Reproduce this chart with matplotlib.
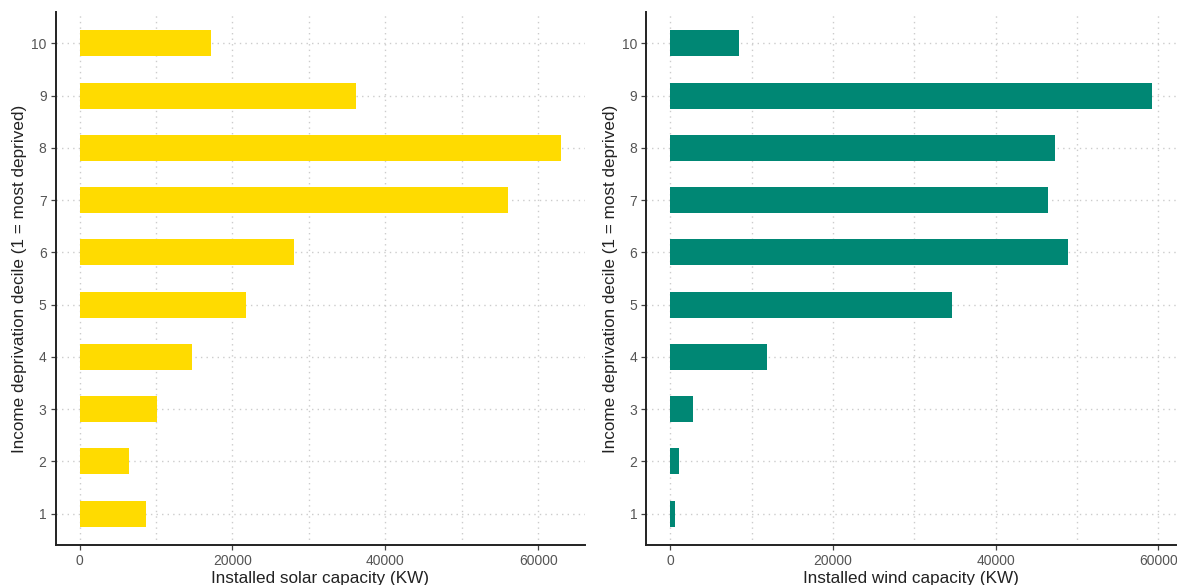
import numpy as np
import matplotlib
matplotlib.use("Agg")
import matplotlib.pyplot as plt
from matplotlib.ticker import MultipleLocator

# income deprivation deciles (1 = most deprived)
deciles = [1, 2, 3, 4, 5, 6, 7, 8, 9, 10]
solar_kw = [8700, 6400, 10100, 14700, 21800, 28000, 56100, 63000, 36100, 17200]
wind_kw = [600, 1060, 2800, 11900, 34700, 48900, 46400, 47300, 59200, 8430]
xticks = [0, 20000, 40000, 60000]

plt.rcParams['font.family'] = ['Liberation Sans', 'DejaVu Sans']

fig = plt.figure(figsize=(11.77, 5.85), dpi=100)
ax1 = fig.add_axes([0.0472, 0.0684, 0.450, 0.911])
ax2 = fig.add_axes([0.549, 0.0684, 0.450, 0.911])

panels = [(ax1, solar_kw, "#FFDB00", "Installed solar capacity (KW)"),
          (ax2, wind_kw, "#008774", "Installed wind capacity (KW)")]

for ax, vals, col, xlab in panels:
    ax.barh(deciles, vals, height=0.5, color=col, zorder=2)
    vmax = max(vals)
    ax.set_xlim(-0.05 * vmax, 1.05 * vmax)
    ax.set_ylim(0.4, 10.6)
    ax.set_yticks(deciles)
    ax.set_xticks(xticks)
    ax.xaxis.set_minor_locator(MultipleLocator(10000))
    ax.grid(True, which='both', axis='x', linestyle=(0, (1, 3)), color='#cccccc', linewidth=1.0, zorder=0)
    ax.grid(True, which='major', axis='y', linestyle=(0, (1, 3)), color='#cccccc', linewidth=1.0, zorder=0)
    ax.set_axisbelow(True)
    for s in ['top', 'right']:
        ax.spines[s].set_visible(False)
    for s in ['left', 'bottom']:
        ax.spines[s].set_linewidth(1.4)
        ax.spines[s].set_color('#222222')
    ax.tick_params(which='major', length=3.5, width=0.9, color='#444444', labelcolor='#555555', labelsize=10, pad=3)
    ax.tick_params(which='minor', length=0)
    ax.set_xlabel(xlab, fontsize=12.3, color='#222222', labelpad=2)
    ax.set_ylabel("Income deprivation decile (1 = most deprived)", fontsize=12.3, color='#222222', labelpad=3)

fig.savefig("out.png", dpi=100)
